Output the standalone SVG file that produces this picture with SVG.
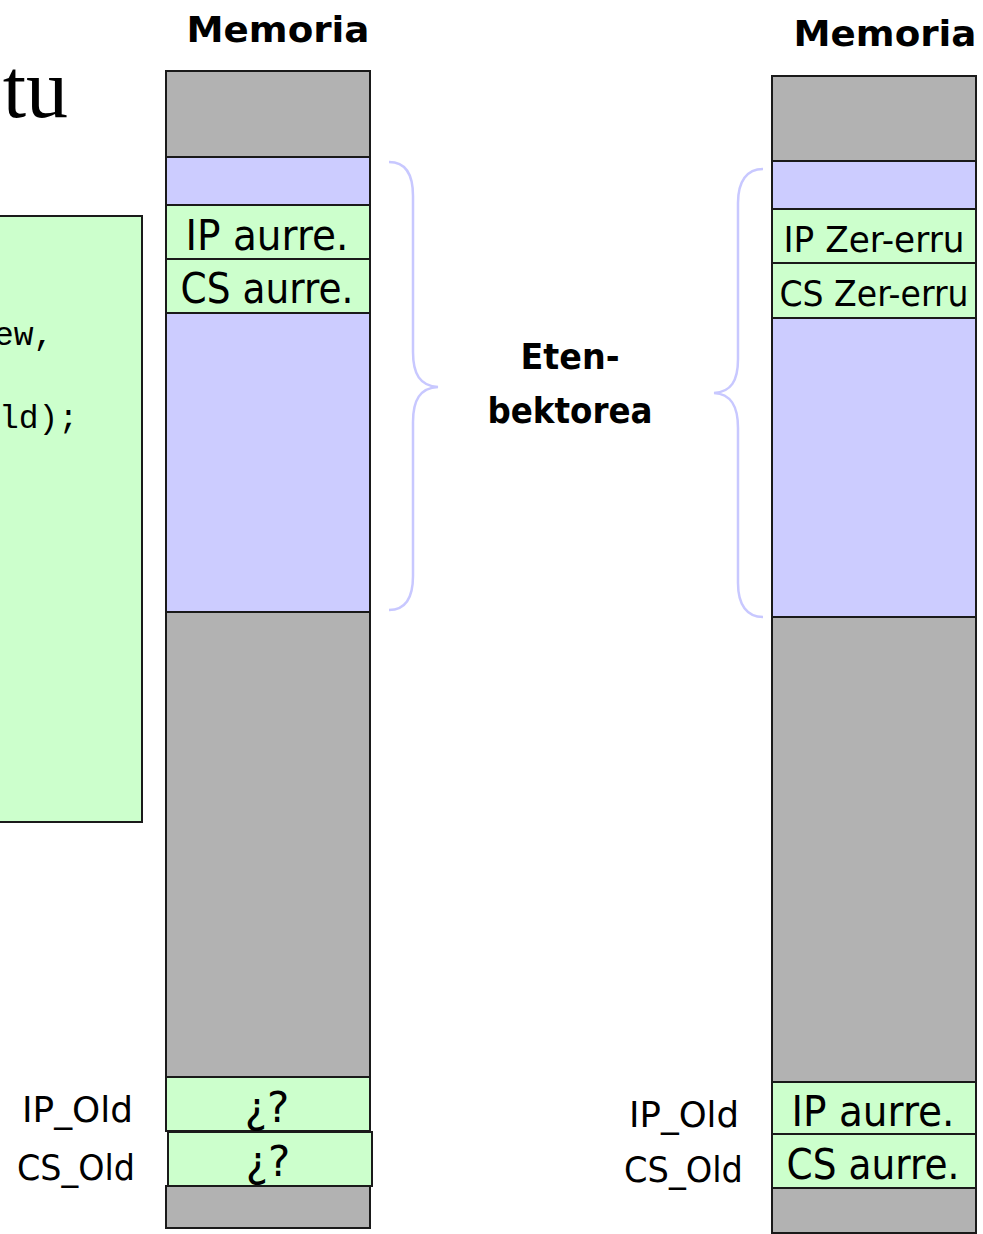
<svg xmlns="http://www.w3.org/2000/svg" width="983" height="1234" viewBox="0 0 983 1234">
  <style>
    .gray { fill: #b2b2b2; stroke: #1a1a1a; stroke-width: 2; }
    .blue { fill: #ccccff; stroke: #1a1a1a; stroke-width: 2; }
    .green { fill: #ccffcc; stroke: #1a1a1a; stroke-width: 2; }
    .cell { font-family: "DejaVu Sans", Verdana, sans-serif; font-size: 42px; fill: #000; }
    .side { font-family: "DejaVu Sans", Verdana, sans-serif; font-size: 35px; fill: #000; }
    .head { font-family: "DejaVu Sans", Verdana, sans-serif; font-weight: bold; font-size: 36px; fill: #000; }
    .code { font-family: "Liberation Mono", "Courier New", monospace; font-size: 33px; fill: #000; }
    .brace { fill: none; stroke: #c8c8ff; stroke-width: 2.5; }
  </style>

  <rect width="983" height="1234" fill="#fff"/>

  <!-- title fragment -->
  <g id="title">
    <text x="68" y="117" text-anchor="end" font-family="'Liberation Serif', 'Times New Roman', serif" font-size="84">tu</text>
  </g>

  <!-- code box -->
  <g id="code-box">
    <rect x="-10" y="216" width="152" height="606" class="green"/>
    <text x="-6" y="345" class="code">ew,</text>
    <text x="-1" y="428" class="code">ld);</text>
  </g>

  <!-- left memory column -->
  <g id="memory-left">
    <text x="278" y="42" text-anchor="middle" class="head" textLength="183" lengthAdjust="spacingAndGlyphs">Memoria</text>
    <rect x="166" y="71" width="204" height="86" class="gray"/>
    <rect x="166" y="157" width="204" height="48" class="blue"/>
    <g id="left-ip">
      <rect x="166" y="205" width="204" height="54" class="green"/>
      <text x="267" y="250" text-anchor="middle" class="cell" textLength="163" lengthAdjust="spacingAndGlyphs">IP aurre.</text>
    </g>
    <g id="left-cs">
      <rect x="166" y="259" width="204" height="54" class="green"/>
      <text x="267" y="303" text-anchor="middle" class="cell" textLength="173" lengthAdjust="spacingAndGlyphs">CS aurre.</text>
    </g>
    <rect x="166" y="313" width="204" height="299" class="blue"/>
    <rect x="166" y="612" width="204" height="465" class="gray"/>
    <rect x="166" y="1186" width="204" height="42" class="gray"/>
    <g id="left-ipold">
      <rect x="166" y="1077" width="204" height="54" class="green"/>
      <text x="267" y="1122" text-anchor="middle" class="cell">¿?</text>
    </g>
    <g id="left-csold">
      <rect x="168" y="1132" width="204" height="54" class="green"/>
      <text x="268" y="1176" text-anchor="middle" class="cell">¿?</text>
    </g>
    <text x="133" y="1122" text-anchor="end" class="side" textLength="111" lengthAdjust="spacingAndGlyphs">IP_Old</text>
    <text x="135" y="1180" text-anchor="end" class="side" textLength="118" lengthAdjust="spacingAndGlyphs">CS_Old</text>
  </g>

  <!-- right memory column -->
  <g id="memory-right">
    <text x="885" y="46" text-anchor="middle" class="head" textLength="183" lengthAdjust="spacingAndGlyphs">Memoria</text>
    <rect x="772" y="76" width="204" height="85" class="gray"/>
    <rect x="772" y="161" width="204" height="48" class="blue"/>
    <g id="right-ip">
      <rect x="772" y="209" width="204" height="54" class="green"/>
      <text x="874" y="252" text-anchor="middle" class="side" textLength="181" lengthAdjust="spacingAndGlyphs">IP Zer-erru</text>
    </g>
    <g id="right-cs">
      <rect x="772" y="263" width="204" height="55" class="green"/>
      <text x="874" y="306" text-anchor="middle" class="side" textLength="189" lengthAdjust="spacingAndGlyphs">CS Zer-erru</text>
    </g>
    <rect x="772" y="318" width="204" height="299" class="blue"/>
    <rect x="772" y="617" width="204" height="465" class="gray"/>
    <rect x="772" y="1188" width="204" height="45" class="gray"/>
    <g id="right-ipold">
      <rect x="772" y="1082" width="204" height="52" class="green"/>
      <text x="873" y="1126" text-anchor="middle" class="cell" textLength="163" lengthAdjust="spacingAndGlyphs">IP aurre.</text>
    </g>
    <g id="right-csold">
      <rect x="772" y="1134" width="204" height="54" class="green"/>
      <text x="873" y="1179" text-anchor="middle" class="cell" textLength="173" lengthAdjust="spacingAndGlyphs">CS aurre.</text>
    </g>
    <text x="739" y="1127" text-anchor="end" class="side" textLength="110" lengthAdjust="spacingAndGlyphs">IP_Old</text>
    <text x="743" y="1182" text-anchor="end" class="side" textLength="119" lengthAdjust="spacingAndGlyphs">CS_Old</text>
  </g>

  <!-- vector table label -->
  <g id="label">
    <text x="570" y="369" text-anchor="middle" class="head" font-size="34" textLength="99" lengthAdjust="spacingAndGlyphs">Eten-</text>
    <text x="570" y="423" text-anchor="middle" class="head" font-size="34" textLength="165" lengthAdjust="spacingAndGlyphs">bektorea</text>
  </g>

  <!-- braces marking the vector table -->
  <g id="connectors">
    <path class="brace" d="M389,162 C405,162 413,174 413,196 L413,352 C413,374 420,386 438,387 C420,388 413,400 413,422 L413,576 C413,598 405,610 389,610"/>
    <path class="brace" d="M763,169 C747,169 738,181 738,203 L738,359 C738,381 731,392 714,393 C731,394 738,406 738,428 L738,583 C738,605 747,617 763,617"/>
  </g>
</svg>
